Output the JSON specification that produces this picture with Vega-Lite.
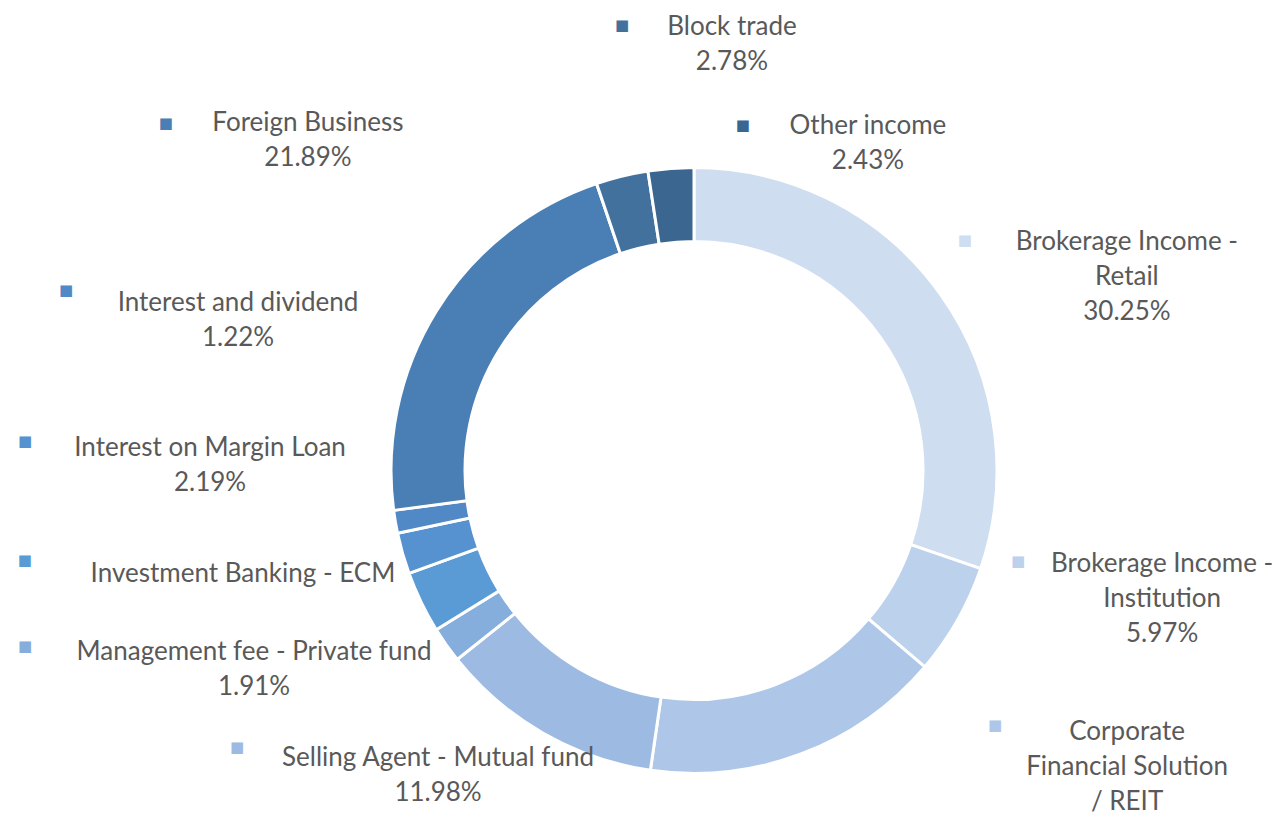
{
  "$schema": "https://vega.github.io/schema/vega-lite/v6.json",
  "width": 1184,
  "height": 705,
  "autosize": "none",
  "padding": {"left": 102, "top": 118, "right": 0, "bottom": 0},
  "background": "white",
  "config": {"view": {"stroke": null}, "text": {"font": "Lato", "fontSize": 26, "lineBreak": "\n", "lineHeight": 35, "align": "center", "baseline": "middle"}},
  "data": {"values": [
    {"name": "Brokerage Income - Retail", "value": 30.25, "order": 1, "label": "Brokerage Income -\nRetail\n30.25%"},
    {"name": "Brokerage Income - Institution", "value": 5.97, "order": 2, "label": "Brokerage Income -\nInstitution\n5.97%"},
    {"name": "Corporate Financial Solution / REIT", "value": 16.08, "order": 3, "label": "Corporate\nFinancial Solution\n/ REIT"},
    {"name": "Selling Agent - Mutual fund", "value": 11.98, "order": 4, "label": "Selling Agent - Mutual fund\n11.98%"},
    {"name": "Management fee - Private fund", "value": 1.91, "order": 5, "label": "Management fee - Private fund\n1.91%"},
    {"name": "Investment Banking - ECM", "value": 3.30, "order": 6, "label": "Investment Banking - ECM"},
    {"name": "Interest on Margin Loan", "value": 2.19, "order": 7, "label": "Interest on Margin Loan\n2.19%"},
    {"name": "Interest and dividend", "value": 1.22, "order": 8, "label": "Interest and dividend\n1.22%"},
    {"name": "Foreign Business", "value": 21.89, "order": 9, "label": "Foreign Business\n21.89%"},
    {"name": "Block trade", "value": 2.78, "order": 10, "label": "Block trade\n2.78%"},
    {"name": "Other income", "value": 2.43, "order": 11, "label": "Other income\n2.43%"}
  ]},
  "encoding": {
    "theta": {"field": "value", "type": "quantitative", "stack": true},
    "order": {"field": "order", "type": "quantitative"},
    "color": {
      "field": "name", "type": "nominal", "legend": null,
      "scale": {
        "domain": ["Brokerage Income - Retail", "Brokerage Income - Institution", "Corporate Financial Solution / REIT", "Selling Agent - Mutual fund", "Management fee - Private fund", "Investment Banking - ECM", "Interest on Margin Loan", "Interest and dividend", "Foreign Business", "Block trade", "Other income"],
        "range": ["#cfddf0", "#bcd1ec", "#aec7e8", "#9dbbe2", "#86aedc", "#5b9bd5", "#5592cf", "#5089c6", "#4a7fb5", "#43719e", "#3a6690"]
      }
    }
  },
  "layer": [
    {"mark": {"type": "arc", "innerRadius": 229, "outerRadius": 303, "stroke": "white", "strokeWidth": 3}},

    {"mark": {"type": "text", "radius": 464.6, "dx": 54.9, "dy": 42.0},
     "encoding": {"color": {"value": "#595959"}, "text": {"condition": {"test": "datum.order === 1", "field": "label"}, "value": ""}}},
    {"mark": {"type": "text", "radius": 470.5, "dx": 59.2, "dy": -138.9},
     "encoding": {"color": {"value": "#595959"}, "text": {"condition": {"test": "datum.order === 2", "field": "label"}, "value": ""}}},
    {"mark": {"type": "text", "radius": 447.1, "dx": 275.3, "dy": -156.4},
     "encoding": {"color": {"value": "#595959"}, "text": {"condition": {"test": "datum.order === 3", "field": "label"}, "value": ""}}},
    {"mark": {"type": "text", "radius": 392.0, "dx": -60.9, "dy": -52.5},
     "encoding": {"color": {"value": "#595959"}, "text": {"condition": {"test": "datum.order === 4", "field": "label"}, "value": ""}}},
    {"mark": {"type": "text", "radius": 474.4, "dx": -52.1, "dy": -91.6},
     "encoding": {"color": {"value": "#595959"}, "text": {"condition": {"test": "datum.order === 5", "field": "label"}, "value": ""}}},
    {"mark": {"type": "text", "radius": 450.9, "dx": -45.0, "dy": -92.1},
     "encoding": {"color": {"value": "#595959"}, "text": {"condition": {"test": "datum.order === 6", "field": "label"}, "value": ""}}},
    {"mark": {"type": "text", "radius": 464.1, "dx": -37.6, "dy": -149.6},
     "encoding": {"color": {"value": "#595959"}, "text": {"condition": {"test": "datum.order === 7", "field": "label"}, "value": ""}}},
    {"mark": {"type": "text", "radius": 424.0, "dx": -38.1, "dy": -239.4},
     "encoding": {"color": {"value": "#595959"}, "text": {"condition": {"test": "datum.order === 8", "field": "label"}, "value": ""}}},
    {"mark": {"type": "text", "radius": 502.0, "dx": 40.4, "dy": -82.6},
     "encoding": {"color": {"value": "#595959"}, "text": {"condition": {"test": "datum.order === 9", "field": "label"}, "value": ""}}},
    {"mark": {"type": "text", "radius": 404.8, "dx": 134.2, "dy": -50.3},
     "encoding": {"color": {"value": "#595959"}, "text": {"condition": {"test": "datum.order === 10", "field": "label"}, "value": ""}}},
    {"mark": {"type": "text", "radius": 312.8, "dx": 197.8, "dy": -32.6},
     "encoding": {"color": {"value": "#595959"}, "text": {"condition": {"test": "datum.order === 11", "field": "label"}, "value": ""}}},

    {"mark": {"type": "text", "radius": 464.6, "dx": -107.1, "dy": 40.0, "font": "DejaVu Sans", "fontSize": 15},
     "encoding": {"text": {"condition": {"test": "datum.order === 1", "value": "■"}, "value": ""}}},
    {"mark": {"type": "text", "radius": 470.5, "dx": -84.8, "dy": -141.9, "font": "DejaVu Sans", "fontSize": 15},
     "encoding": {"text": {"condition": {"test": "datum.order === 2", "value": "■"}, "value": ""}}},
    {"mark": {"type": "text", "radius": 447.1, "dx": 143.3, "dy": -163.4, "font": "DejaVu Sans", "fontSize": 15},
     "encoding": {"text": {"condition": {"test": "datum.order === 3", "value": "■"}, "value": ""}}},
    {"mark": {"type": "text", "radius": 392.0, "dx": -261.9, "dy": -64.0, "font": "DejaVu Sans", "fontSize": 15},
     "encoding": {"text": {"condition": {"test": "datum.order === 4", "value": "■"}, "value": ""}}},
    {"mark": {"type": "text", "radius": 474.4, "dx": -281.1, "dy": -98.1, "font": "DejaVu Sans", "fontSize": 15},
     "encoding": {"text": {"condition": {"test": "datum.order === 5", "value": "■"}, "value": ""}}},
    {"mark": {"type": "text", "radius": 450.9, "dx": -263.0, "dy": -106.1, "font": "DejaVu Sans", "fontSize": 15},
     "encoding": {"text": {"condition": {"test": "datum.order === 6", "value": "■"}, "value": ""}}},
    {"mark": {"type": "text", "radius": 464.1, "dx": -222.6, "dy": -156.1, "font": "DejaVu Sans", "fontSize": 15},
     "encoding": {"text": {"condition": {"test": "datum.order === 7", "value": "■"}, "value": ""}}},
    {"mark": {"type": "text", "radius": 424.0, "dx": -210.1, "dy": -251.9, "font": "DejaVu Sans", "fontSize": 15},
     "encoding": {"text": {"condition": {"test": "datum.order === 8", "value": "■"}, "value": ""}}},
    {"mark": {"type": "text", "radius": 502.0, "dx": -101.6, "dy": -83.1, "font": "DejaVu Sans", "fontSize": 15},
     "encoding": {"text": {"condition": {"test": "datum.order === 9", "value": "■"}, "value": ""}}},
    {"mark": {"type": "text", "radius": 404.8, "dx": 24.2, "dy": -52.8, "font": "DejaVu Sans", "fontSize": 15},
     "encoding": {"text": {"condition": {"test": "datum.order === 10", "value": "■"}, "value": ""}}},
    {"mark": {"type": "text", "radius": 312.8, "dx": 72.8, "dy": -34.1, "font": "DejaVu Sans", "fontSize": 15},
     "encoding": {"text": {"condition": {"test": "datum.order === 11", "value": "■"}, "value": ""}}}
  ]
}
